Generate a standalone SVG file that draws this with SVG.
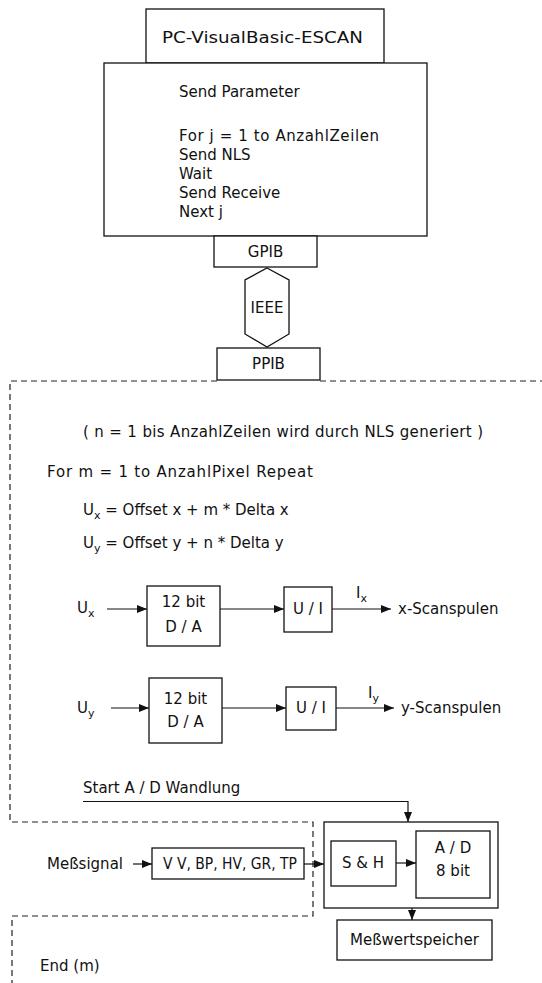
<svg xmlns="http://www.w3.org/2000/svg" width="542" height="983" viewBox="0 0 542 983">
<style>
text{font-family:"DejaVu Sans","Liberation Sans",Arial,sans-serif;font-size:15px;fill:#111}
.b{fill:#fff;stroke:#111;stroke-width:1.3}
.l{fill:none;stroke:#111;stroke-width:1.2}
.d{fill:none;stroke:#222;stroke-width:1.2;stroke-dasharray:6 4}
.c{text-anchor:middle}
.s{font-size:11px}
</style>
<defs>
<marker id="a" viewBox="0 0 10 8" refX="10" refY="4" markerWidth="10" markerHeight="8" markerUnits="userSpaceOnUse" orient="auto">
<path d="M0,0 L10,4 L0,8 Z" fill="#111"/>
</marker>
</defs>
<rect width="542" height="983" fill="#fff"/>

<g id="boundary">
<path class="d" d="M217,381 H10 V822 H313 V916 H12 V983"/>
<path class="d" d="M320,381 H542"/>
</g>

<g id="pc-header">
<rect class="b" x="146" y="9" width="238" height="54"/>
<text x="162" y="43" font-size="19" textLength="201" lengthAdjust="spacingAndGlyphs">PC-VisualBasic-ESCAN</text>
</g>

<g id="pc-program">
<rect class="b" x="104" y="63" width="323" height="173"/>
<text x="179" y="97">Send Parameter</text>
<text x="179" y="141" textLength="200" lengthAdjust="spacing">For  j = 1 to  AnzahlZeilen</text>
<text x="179" y="160">Send NLS</text>
<text x="179" y="179">Wait</text>
<text x="179" y="198">Send Receive</text>
<text x="179" y="217">Next  j</text>
</g>

<g id="gpib">
<rect class="b" x="214" y="236" width="103" height="31"/>
<text class="c" x="265.5" y="257">GPIB</text>
</g>

<g id="ieee">
<path class="b" d="M267,268 L289,280 V334 L267,347 L245,334 V280 Z"/>
<text class="c" x="267" y="313" font-size="14">IEEE</text>
</g>

<g id="ppib">
<rect class="b" x="217" y="348" width="103" height="32"/>
<text class="c" x="268.5" y="369">PPIB</text>
</g>

<g id="loop-text">
<text x="83" y="437" textLength="400" lengthAdjust="spacing">( n = 1  bis   AnzahlZeilen wird durch NLS generiert )</text>
<text x="47" y="477" textLength="266" lengthAdjust="spacing">For m = 1  to  AnzahlPixel  Repeat</text>
<text x="83" y="515">U<tspan class="s" dy="4">x</tspan><tspan dy="-4"> = Offset x + m * Delta x</tspan></text>
<text x="83" y="548">U<tspan class="s" dy="4">y</tspan><tspan dy="-4"> = Offset y + n * Delta y</tspan></text>
</g>

<g id="da-x">
<rect class="b" x="147" y="586" width="73" height="60"/>
<text class="c" x="183.5" y="607">12 bit</text>
<text class="c" x="183.5" y="632">D / A</text>
</g>
<g id="ui-x">
<rect class="b" x="284" y="587" width="48" height="45"/>
<text class="c" x="308" y="614">U / I</text>
</g>
<g id="label-ux">
<text x="77" y="613">U<tspan class="s" dy="4">x</tspan></text>
</g>
<g id="x-scan">
<text x="398" y="614" font-size="16.5">x-Scanspulen</text>
<text x="356" y="598" font-size="13">I<tspan class="s" dy="4">x</tspan></text>
</g>

<g id="da-y">
<rect class="b" x="149" y="678" width="73" height="65"/>
<text class="c" x="185.5" y="704">12 bit</text>
<text class="c" x="185.5" y="727">D / A</text>
</g>
<g id="ui-y">
<rect class="b" x="286" y="687" width="50" height="43"/>
<text class="c" x="311" y="713">U / I</text>
</g>
<g id="label-uy">
<text x="77" y="713">U<tspan class="s" dy="4">y</tspan></text>
</g>
<g id="y-scan">
<text x="401" y="713" font-size="16.5">y-Scanspulen</text>
<text x="368" y="698" font-size="13">I<tspan class="s" dy="4">y</tspan></text>
</g>

<g id="start-ad">
<text x="83" y="793">Start A / D Wandlung</text>
</g>

<g id="messsignal">
<text x="47" y="869">Meßsignal</text>
</g>

<g id="filter">
<rect class="b" x="152" y="848" width="152" height="31"/>
<text x="163" y="869" font-size="13" textLength="134" lengthAdjust="spacingAndGlyphs">V V, BP, HV, GR, TP</text>
</g>

<g id="adc-unit">
<rect class="b" x="324" y="822" width="174" height="86"/>
</g>
<g id="sh">
<rect class="b" x="331" y="841" width="65" height="45"/>
<text class="c" x="363" y="868">S &amp; H</text>
</g>
<g id="ad">
<rect class="b" x="416" y="831" width="74" height="67"/>
<text class="c" x="453" y="853">A / D</text>
<text class="c" x="453" y="876">8 bit</text>
</g>

<g id="speicher">
<rect class="b" x="337" y="920" width="155" height="40"/>
<text class="c" x="414.5" y="945">Meßwertspeicher</text>
</g>

<g id="end">
<text x="40" y="971">End (m)</text>
</g>

<g id="connectors">
<path class="l" d="M107,609 H147" marker-end="url(#a)"/>
<path class="l" d="M220,609 H284" marker-end="url(#a)"/>
<path class="l" d="M332,609 H391" marker-end="url(#a)"/>
<path class="l" d="M111,708 H149" marker-end="url(#a)"/>
<path class="l" d="M222,708 H286" marker-end="url(#a)"/>
<path class="l" d="M336,708 H394" marker-end="url(#a)"/>
<path class="l" d="M83,801.5 H408 V822" marker-end="url(#a)"/>
<path class="l" d="M133,864 H152" marker-end="url(#a)"/>
<path class="l" d="M304,864 H324" marker-end="url(#a)"/>
<path class="l" d="M396,863 H416" marker-end="url(#a)"/>
<path class="l" d="M412,908 V920" marker-end="url(#a)"/>
</g>
</svg>
